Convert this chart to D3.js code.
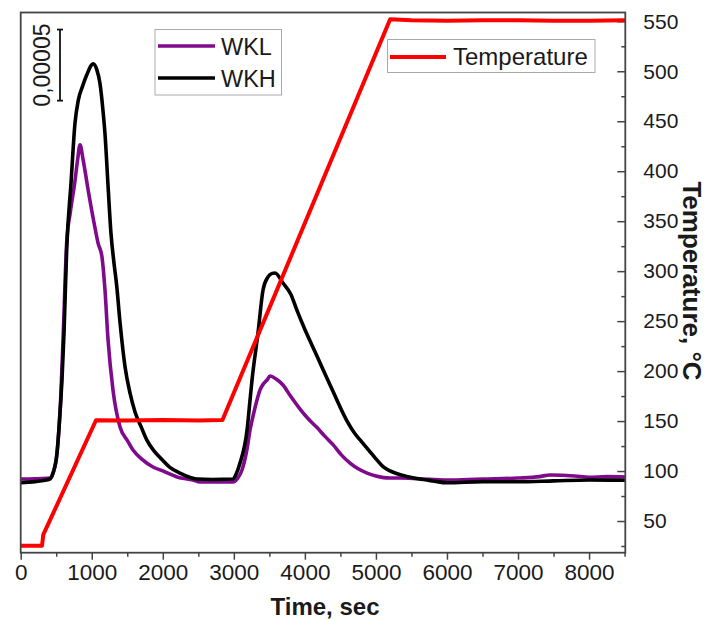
<!DOCTYPE html>
<html>
<head>
<meta charset="utf-8">
<script src="https://cdn.jsdelivr.net/npm/d3@7/dist/d3.min.js"></script>
<style>
  body { margin: 0; background: #fff; }
  svg text { font-family: "Liberation Sans", Arial, sans-serif; fill: #1a1a1a; }
  .axis path, .axis line { stroke: #444; stroke-width: 1.5; }
  .frame { fill: none; stroke: #444; stroke-width: 1.8; }
</style>
</head>
<body>
<div id="chart"></div>
<script>
// Data. time in sec, signal in units of 1e-5, temperature in °C
var wklTime = [0, 200, 412, 455, 511, 560, 600, 647, 700, 760, 800, 835, 880, 960, 1040, 1088, 1144, 1186, 1229, 1299, 1398, 1500, 1581, 1700, 1862, 2000, 2200, 2425, 2524, 2700, 2988, 3050, 3115, 3186, 3228, 3270, 3326, 3369, 3420, 3467, 3509, 3600, 3692, 3800, 3932, 4050, 4171, 4280, 4396, 4510, 4636, 4750, 4875, 5000, 5198, 5339, 5600, 6001, 6300, 6500, 7000, 7300, 7450, 7800, 8000, 8250, 8511];
var wklSignal = [5.18, 5.2, 5.25, 5.6, 7.0, 10.5, 15.5, 21.8, 24.0, 26.0, 27.6, 28.7, 27.6, 25.2, 23.0, 21.8, 20.8, 18.5, 15.0, 11.45, 8.84, 7.9, 7.22, 6.6, 6.03, 5.75, 5.33, 5.11, 4.97, 4.97, 4.97, 5.2, 5.82, 7.3, 8.63, 9.6, 10.74, 11.45, 11.9, 12.15, 12.43, 12.2, 11.8, 11.0, 10.1, 9.4, 8.8, 8.2, 7.6, 6.9, 6.3, 5.9, 5.6, 5.4, 5.25, 5.25, 5.2, 5.11, 5.15, 5.18, 5.25, 5.35, 5.47, 5.4, 5.3, 5.35, 5.33];

var wkhTime = [0, 200, 412, 455, 511, 555, 581, 610, 647, 708, 764, 811, 870, 929, 1022, 1070, 1116, 1160, 1186, 1233, 1270, 1310, 1351, 1398, 1468, 1540, 1609, 1700, 1778, 1870, 1961, 2100, 2242, 2481, 2700, 2988, 3030, 3087, 3186, 3228, 3256, 3340, 3411, 3481, 3540, 3580, 3692, 3800, 3900, 4000, 4100, 4200, 4300, 4400, 4500, 4600, 4700, 4800, 4900, 5000, 5100, 5200, 5300, 5450, 5600, 5800, 6001, 6500, 7000, 7500, 8000, 8511];
var wkhSignal = [4.92, 5.0, 5.18, 5.6, 7.0, 10.0, 12.15, 15.5, 21.3, 26.0, 30.2, 31.84, 32.8, 33.6, 34.4, 34.0, 33.0, 31.0, 29.5, 25.5, 22.5, 20.5, 18.8, 16.2, 13.1, 11.2, 9.9, 8.8, 7.9, 7.2, 6.7, 6.0, 5.6, 5.18, 5.15, 5.18, 5.5, 6.31, 8.63, 10.74, 12.15, 15.45, 18.48, 19.4, 19.65, 19.68, 18.97, 18.2, 16.9, 15.7, 14.6, 13.5, 12.4, 11.3, 10.2, 9.2, 8.4, 7.8, 7.2, 6.6, 6.05, 5.75, 5.55, 5.35, 5.2, 5.05, 4.92, 5.0, 4.99, 5.05, 5.11, 5.1];

var tempTime = [0, 300, 318, 1060, 1500, 2000, 2500, 2840, 5200, 5500, 6000, 6500, 7000, 7500, 8000, 8511];
var tempValue = [25.3, 25.3, 36.3, 150.8, 150.5, 151, 150.5, 151, 552, 551, 550.5, 551, 551, 550.5, 550.5, 551];

var xTicks = [0, 1000, 2000, 3000, 4000, 5000, 6000, 7000, 8000];
var tempTicks = [50, 100, 150, 200, 250, 300, 350, 400, 450, 500, 550];
var scaleBarValue = 5; // 0,00005 = 5 units of 1e-5

var series = [
  { name: "WKL", time: wklTime, values: wklSignal, color: "#800a8c" },
  { name: "WKH", time: wkhTime, values: wkhSignal, color: "#000000" }
];

var render = function() {
  var width = 710;
  var height = 620;
  var margins = { top: 12.5, right: 84.7, bottom: 67.3, left: 20.7 };
  var chartWidth = width - margins.left - margins.right;
  var chartHeight = height - margins.top - margins.bottom;

  var svg = d3.select("#chart")
    .append("svg")
    .attr("width", width)
    .attr("height", height);

  var chartElement = svg.append("g")
    .attr("transform", `translate(${margins.left},${margins.top})`);

  var xScale = d3.scaleLinear().domain([0, 8510]).range([0, chartWidth]);
  var yTemp = d3.scaleLinear().domain([18.3, 558.8]).range([chartHeight, 0]);
  var ySignal = d3.scaleLinear().domain([0, 38]).range([chartHeight, 0]);

  // x axis, major + minor
  var xAxis = d3.axisBottom(xScale)
    .tickValues(xTicks)
    .tickSize(7)
    .tickPadding(5)
    .tickFormat(d3.format("d"));
  var xMinor = d3.axisBottom(xScale)
    .tickValues(d3.range(500, 8600, 1000))
    .tickSize(4)
    .tickFormat("");

  chartElement.append("g")
    .attr("class", "x axis")
    .attr("transform", `translate(0,${chartHeight})`)
    .call(xAxis)
    .call(g => g.selectAll("text").style("font-size", "22.5px").attr("dy", "0.7em"));
  chartElement.append("g")
    .attr("class", "x axis minor")
    .attr("transform", `translate(0,${chartHeight})`)
    .call(xMinor);

  // right axis, ticks pointing inward
  var yAxis = d3.axisRight(yTemp)
    .tickValues(tempTicks)
    .tickSize(-8)
    .tickPadding(18)
    .tickFormat(d3.format("d"));
  var yMinor = d3.axisRight(yTemp)
    .tickValues(d3.range(25, 560, 50))
    .tickSize(-4)
    .tickFormat("");

  chartElement.append("g")
    .attr("class", "y axis")
    .attr("transform", `translate(${chartWidth},0)`)
    .call(yAxis)
    .call(g => g.selectAll("text").style("font-size", "21px"));
  chartElement.append("g")
    .attr("class", "y axis minor")
    .attr("transform", `translate(${chartWidth},0)`)
    .call(yMinor);

  chartElement.selectAll(".axis .domain").remove();

  // clip
  svg.append("defs").append("clipPath").attr("id", "clip")
    .append("rect").attr("width", chartWidth).attr("height", chartHeight);

  var plot = chartElement.append("g").attr("clip-path", "url(#clip)");

  var signalLine = d3.line()
    .x(d => xScale(d[0]))
    .y(d => ySignal(d[1]))
    .curve(d3.curveMonotoneX);

  series.forEach(function(s) {
    plot.append("path")
      .datum(s.time.map((t, i) => [t, s.values[i]]))
      .attr("fill", "none")
      .attr("stroke", s.color)
      .attr("stroke-width", 3.6)
      .attr("stroke-linejoin", "round")
      .attr("d", signalLine);
  });

  var tempLine = d3.line()
    .x(d => xScale(d[0]))
    .y(d => yTemp(d[1]));

  plot.append("path")
    .datum(tempTime.map((t, i) => [t, tempValue[i]]))
    .attr("fill", "none")
    .attr("stroke", "#ff0000")
    .attr("stroke-width", 4)
    .attr("stroke-linejoin", "round")
    .attr("d", tempLine);

  // frame
  chartElement.append("rect")
    .attr("class", "frame")
    .attr("width", chartWidth)
    .attr("height", chartHeight);

  // scale bar
  var barX = xScale(553);
  var barTop = ySignal(31.8 + scaleBarValue);
  var barBottom = ySignal(31.8);
  var bar = chartElement.append("g")
    .attr("stroke", "#111")
    .attr("stroke-width", 1.8);
  bar.append("line").attr("x1", barX).attr("x2", barX).attr("y1", barTop).attr("y2", barBottom);
  bar.append("line").attr("x1", barX - 3).attr("x2", barX + 3).attr("y1", barTop).attr("y2", barTop);
  bar.append("line").attr("x1", barX - 3).attr("x2", barX + 3).attr("y1", barBottom).attr("y2", barBottom);

  chartElement.append("text")
    .attr("transform", `translate(${barX - 10},${(barTop + barBottom) / 2}) rotate(-90)`)
    .attr("text-anchor", "middle")
    .style("font-size", "23px")
    .text("0,00005");

  // legend 1
  var leg1 = svg.append("g");
  leg1.append("rect")
    .attr("x", 155).attr("y", 29.5).attr("width", 126.5).attr("height", 65.5)
    .attr("fill", "#fff").attr("stroke", "#aaa").attr("stroke-width", 1);
  series.forEach(function(s, i) {
    var y = 46 + i * 32;
    leg1.append("line")
      .attr("x1", 158).attr("x2", 215).attr("y1", y).attr("y2", y)
      .attr("stroke", s.color).attr("stroke-width", 3.6);
    leg1.append("text")
      .attr("x", 221).attr("y", y + 8.5)
      .style("font-size", "23.5px")
      .text(s.name);
  });

  // legend 2
  var leg2 = svg.append("g");
  leg2.append("rect")
    .attr("x", 387.5).attr("y", 39.5).attr("width", 207.5).attr("height", 33)
    .attr("fill", "#fff").attr("stroke", "#aaa").attr("stroke-width", 1);
  leg2.append("line")
    .attr("x1", 390).attr("x2", 446).attr("y1", 57).attr("y2", 57)
    .attr("stroke", "#ff0000").attr("stroke-width", 4);
  leg2.append("text")
    .attr("x", 453).attr("y", 64.5)
    .style("font-size", "24px")
    .text("Temperature");

  // axis titles
  svg.append("text")
    .attr("x", 325).attr("y", 615)
    .attr("text-anchor", "middle")
    .style("font-size", "24px")
    .style("font-weight", "bold")
    .text("Time, sec");

  svg.append("text")
    .attr("transform", "translate(683,281) rotate(90)")
    .attr("text-anchor", "middle")
    .style("font-size", "26px")
    .style("font-weight", "bold")
    .text("Temperature, °C");
};

render();
</script>
</body>
</html>
